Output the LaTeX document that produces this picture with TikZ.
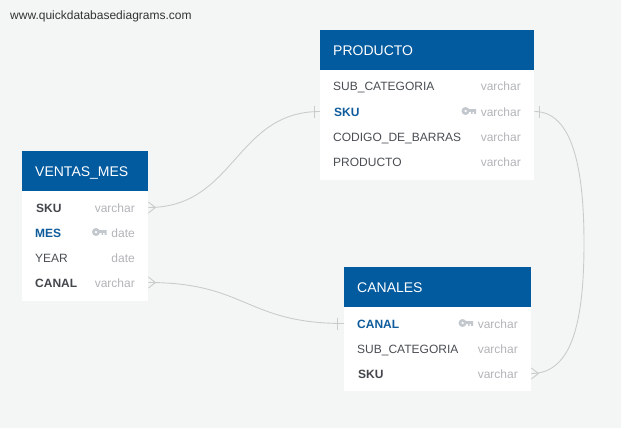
\documentclass[tikz,border=0pt]{standalone}
\usepackage{fontspec}
\setmainfont{Liberation Sans}
\definecolor{pagebg}{HTML}{F4F6F6}
\definecolor{headblue}{HTML}{025A9F}
\definecolor{keyblue}{HTML}{0F5C9C}
\definecolor{namegray}{HTML}{4A4E54}
\definecolor{typegray}{HTML}{B2B4B8}
\definecolor{keygray}{HTML}{C3C7CE}
\definecolor{relgray}{HTML}{CBCBCB}
\tikzset{
  tablebox/.style={fill=white,anchor=north west,inner sep=0pt},
  headbox/.style={fill=headblue,text=white,anchor=north west,font=\fontsize{14}{16}\selectfont,
    inner sep=0pt,minimum height=40pt,text height=10pt,text depth=0pt,align=left},
  fieldname/.style={anchor=west,inner sep=0pt,text=namegray,font=\fontsize{12}{14}\selectfont,text height=9pt,text depth=0pt},
  fieldfk/.style={fieldname,text=namegray!90!black,font=\fontsize{12}{14}\selectfont\bfseries},
  fieldkey/.style={fieldname,text=keyblue,font=\fontsize{12}{14}\selectfont\bfseries},
  fieldtype/.style={anchor=east,inner sep=0pt,text=typegray,font=\fontsize{12}{14}\selectfont,text height=9pt,text depth=0pt},
  rel/.style={draw=relgray,line width=0.9pt},
  keyicon/.pic={
    \fill[keygray,even odd rule] (4,0) circle (4) (4,0) circle (1.5);
    \fill[keygray] (7,-2) -- (14.5,-2) -- (14.5,2.8) -- (12.6,2.8) -- (12.6,0.8) -- (11.2,0.8) -- (11.2,2.8) -- (9.6,2.8) -- (9.6,0.8) -- (7,0.8) -- cycle;
  }
}
\begin{document}
\begin{tikzpicture}[x=1pt,y=-1pt]
  \fill[pagebg] (0,0) rectangle (621,428);
  \useasboundingbox (0,0) rectangle (621,428);
  \node[anchor=base west,inner sep=0pt,text=black!80,font=\fontsize{12}{14}\selectfont] (site) at (10,20) {www.quickdatabasediagrams.com};

  % PRODUCTO
  \node[tablebox,minimum width=214pt,minimum height=150pt] (producto) at (320,30) {};
  \node[headbox,minimum width=214pt,text width=188pt] (productoHead) at (320,30) {PRODUCTO};
  \node[fieldname] (prodSub) at (333,86.5) {SUB\_CATEGORIA};
  \node[fieldkey] (prodSku) at (334,111.5) {SKU};
  \node[fieldname] (prodCod) at (333,136.5) {CODIGO\_DE\_BARRAS};
  \node[fieldname] (prodNom) at (333,161.5) {PRODUCTO};
  \node[fieldtype] (prodSubT) at (521,86.5) {varchar};
  \node[fieldtype] (prodSkuT) at (521,111.5) {varchar};
  \node[fieldtype] (prodCodT) at (521,136.5) {varchar};
  \node[fieldtype] (prodNomT) at (521,161.5) {varchar};
  \pic at (461.5,111) {keyicon};

  % VENTAS_MES
  \node[tablebox,minimum width=126pt,minimum height=150pt] (ventas) at (22,151) {};
  \node[headbox,minimum width=126pt,text width=100pt] (ventasHead) at (22,151) {VENTAS\_MES};
  \node[fieldfk] (ventSku) at (36,207.5) {SKU};
  \node[fieldkey] (ventMes) at (35,232.5) {MES};
  \node[fieldname] (ventYear) at (35,257.5) {YEAR};
  \node[fieldfk] (ventCanal) at (35,282.5) {CANAL};
  \node[fieldtype] (ventSkuT) at (135,207.5) {varchar};
  \node[fieldtype] (ventMesT) at (135,232.5) {date};
  \node[fieldtype] (ventYearT) at (135,257.5) {date};
  \node[fieldtype] (ventCanalT) at (135,282.5) {varchar};
  \pic at (92,232) {keyicon};

  % CANALES
  \node[tablebox,minimum width=187pt,minimum height=124pt] (canales) at (344,267) {};
  \node[headbox,minimum width=187pt,text width=161pt] (canalesHead) at (344,267) {CANALES};
  \node[fieldkey] (canCanal) at (357,323.5) {CANAL};
  \node[fieldname] (canSub) at (357,348.5) {SUB\_CATEGORIA};
  \node[fieldfk] (canSku) at (358,373.5) {SKU};
  \node[fieldtype] (canCanalT) at (518,323.5) {varchar};
  \node[fieldtype] (canSubT) at (518,348.5) {varchar};
  \node[fieldtype] (canSkuT) at (518,373.5) {varchar};
  \pic at (458.5,323) {keyicon};

  % connector ends on the table edges
  \coordinate (ventSkuEnd) at (ventas.east |- ventSku.west);
  \coordinate (ventCanalEnd) at (ventas.east |- ventCanal.west);
  \coordinate (prodSkuIn) at (producto.west |- prodSku.west);
  \coordinate (prodSkuOut) at (producto.east |- prodSku.west);
  \coordinate (canCanalEnd) at (canales.west |- canCanal.west);
  \coordinate (canSkuEnd) at (canales.east |- canSku.west);
  \coordinate (bulge) at (584,243);

  \draw[rel] (ventSkuEnd) .. controls +(87,0) and +(-85,0) .. (prodSkuIn);
  \draw[rel] (ventCanalEnd) .. controls +(98,0) and +(-98,0) .. (canCanalEnd);
  \draw[rel] (prodSkuOut) .. controls +(38,0) and (584,168) .. (bulge)
    .. controls (584,322) and (572,373.5) .. (canSkuEnd);

  % crow feet
  \draw[rel] ([yshift=5.5pt]ventSkuEnd) -- ([xshift=7pt]ventSkuEnd) -- ([yshift=-5.5pt]ventSkuEnd);
  \draw[rel] ([yshift=5.5pt]ventCanalEnd) -- ([xshift=7pt]ventCanalEnd) -- ([yshift=-5.5pt]ventCanalEnd);
  \draw[rel] ([yshift=5.5pt]canSkuEnd) -- ([xshift=7pt]canSkuEnd) -- ([yshift=-5.5pt]canSkuEnd);
  % single bars
  \draw[rel] ([xshift=-6pt,yshift=6pt]prodSkuIn) -- ([xshift=-6pt,yshift=-6pt]prodSkuIn);
  \draw[rel] ([xshift=5pt,yshift=6pt]prodSkuOut) -- ([xshift=5pt,yshift=-6pt]prodSkuOut);
  \draw[rel] ([xshift=-7pt,yshift=6pt]canCanalEnd) -- ([xshift=-7pt,yshift=-6pt]canCanalEnd);
\end{tikzpicture}
\end{document}
